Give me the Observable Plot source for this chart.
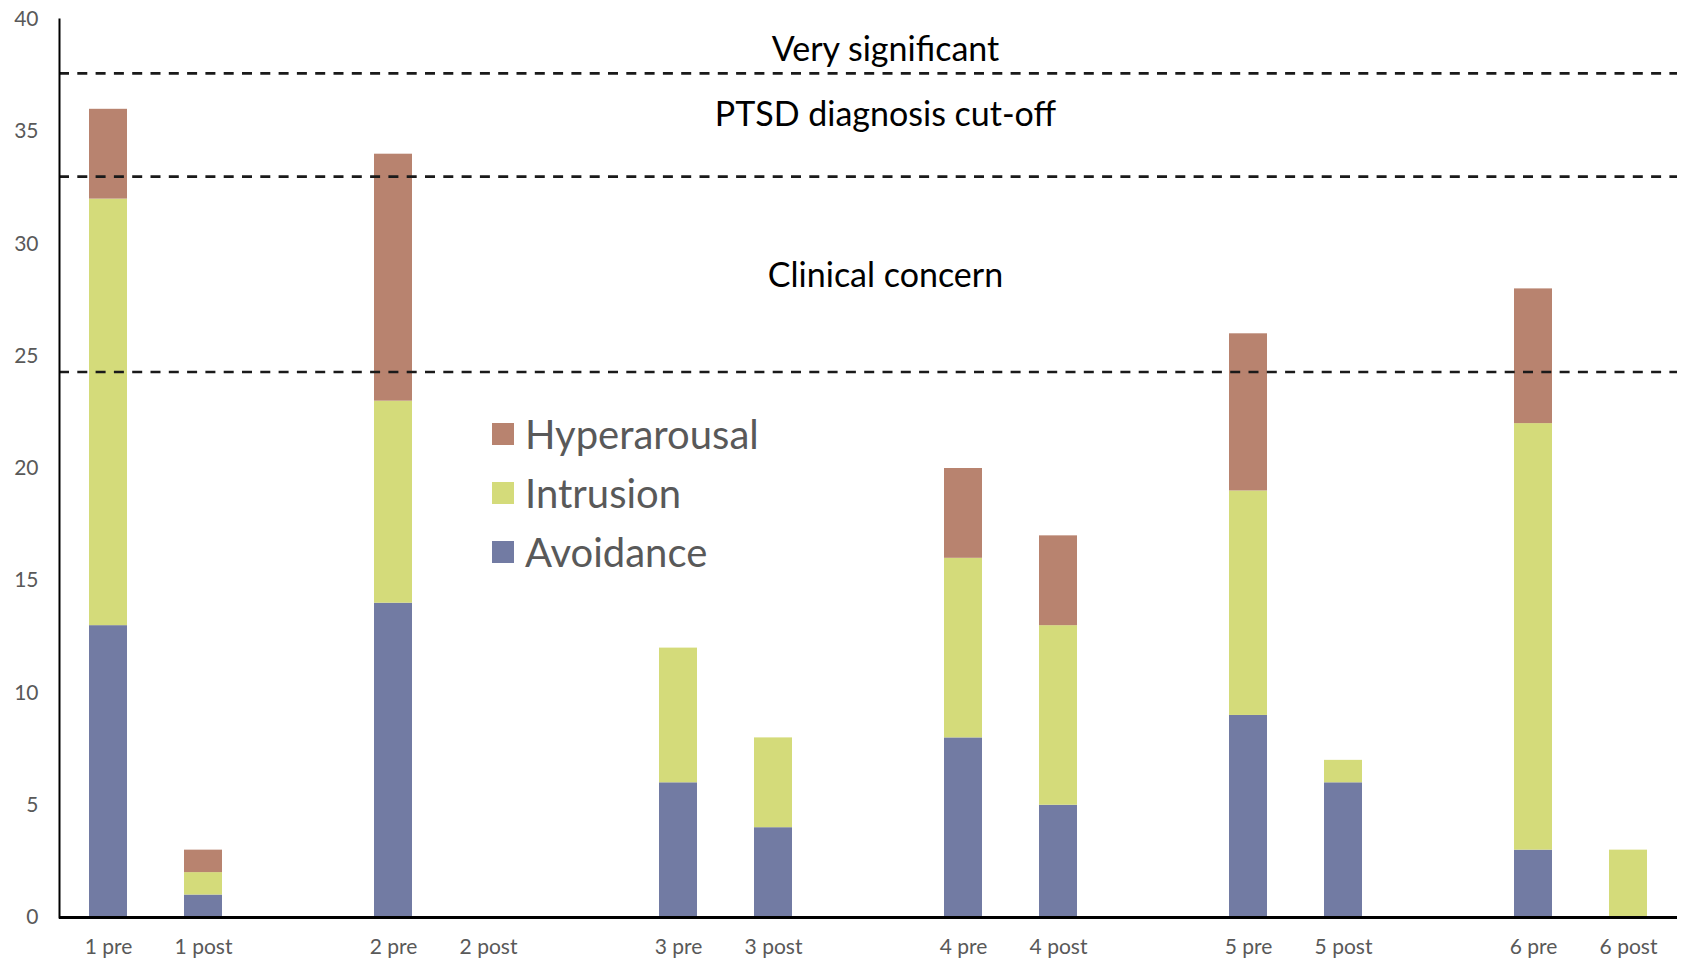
<!DOCTYPE html>
<html>
<head>
<meta charset="utf-8">
<script src="https://cdn.jsdelivr.net/npm/d3@7"></script>
<script src="https://cdn.jsdelivr.net/npm/@observablehq/plot@0.6"></script>
<style>
  html, body { margin: 0; padding: 0; background: #fff; }
  #wrap { position: relative; width: 1682px; height: 962px; font-family: Lato, "Open Sans", sans-serif; }
  #legend { position: absolute; left: 492px; top: 404px; color: #595959; font-size: 40px; }
  .item { display: flex; align-items: center; height: 59px; }
  .sw { width: 22px; height: 22px; margin-right: 11px; }
</style>
</head>
<body>
<div id="wrap"></div>
<script>
// Slots (blank slots separate participants)
const categories = ["1 pre","1 post","gap1","2 pre","2 post","gap2","3 pre","3 post","gap3","4 pre","4 post","gap4","5 pre","5 post","gap5","6 pre","6 post"];
const tickLabels = ["1 pre","1 post","2 pre","2 post","3 pre","3 post","4 pre","4 post","5 pre","5 post","6 pre","6 post"];
const seriesNames = ["Avoidance","Intrusion","Hyperarousal"];
const seriesColors = ["#727BA3","#D4DB7A","#B8836F"];
const avoidance    = [13, 1, 14, 0, 6, 4, 8, 5, 9, 6, 3, 0];
const intrusion    = [19, 1,  9, 0, 6, 4, 8, 8, 10, 1, 19, 3];
const hyperarousal = [ 4, 1, 11, 0, 0, 0, 4, 4, 7, 0, 6, 0];
const thresholds = [24.3, 33, 37.6];
const zoneNames = ["Clinical concern", "PTSD diagnosis cut-off", "Very significant"];
const yTicks = [0,5,10,15,20,25,30,35,40];

const seriesValues = [avoidance, intrusion, hyperarousal];
const rows = [];
seriesNames.forEach((s, si) => {
  tickLabels.forEach((c, ci) => rows.push({cat: c, series: s, value: seriesValues[si][ci]}));
});
const zoneBounds = [...thresholds, 40];
const zones = zoneNames.map((t, i) => ({text: t, y: (zoneBounds[i] + zoneBounds[i+1]) / 2}));
const zoneDy = [2, -10, 4];

const chart = Plot.plot({
  width: 1682,
  height: 962,
  marginLeft: 59,
  marginRight: 5,
  marginTop: 19,
  marginBottom: 45,
  style: {fontFamily: "Lato, 'Open Sans', sans-serif", background: "#fff"},
  x: {domain: categories, paddingInner: 0.6, paddingOuter: 0.3, label: null},
  y: {domain: [0, 40], label: null},
  color: {domain: seriesNames, range: seriesColors},
  marks: [
    Plot.barY(rows, {x: "cat", y: "value", fill: "series", order: seriesNames}),
    Plot.ruleY(thresholds, {stroke: "#1a1a1a", strokeWidth: 2.6, strokeDasharray: "10,8.3"}),
    ...zones.map((z, i) => Plot.text([z], {y: "y", text: "text", frameAnchor: "middle", dx: 17, dy: zoneDy[i], fontSize: 34, fill: "#000"})),
    Plot.axisY({ticks: yTicks, tickSize: 0, tickPadding: 21, fontSize: 21, fill: "#595959", label: null}),
    Plot.axisX({ticks: tickLabels, tickSize: 0, tickPadding: 22, fontSize: 21, fill: "#595959", label: null}),
    Plot.frame({anchor: "left", stroke: "#000", strokeWidth: 2}),
    Plot.ruleY([0], {stroke: "#000", strokeWidth: 3})
  ]
});

const wrap = document.getElementById("wrap");
wrap.appendChild(chart);
const legend = document.createElement("div");
legend.id = "legend";
[2,1,0].forEach(i => {
  const item = document.createElement("div");
  item.className = "item";
  const sw = document.createElement("div");
  sw.className = "sw";
  sw.style.background = seriesColors[i];
  const label = document.createElement("span");
  label.textContent = seriesNames[i];
  item.appendChild(sw); item.appendChild(label);
  legend.appendChild(item);
});
wrap.appendChild(legend);
</script>
</body>
</html>
